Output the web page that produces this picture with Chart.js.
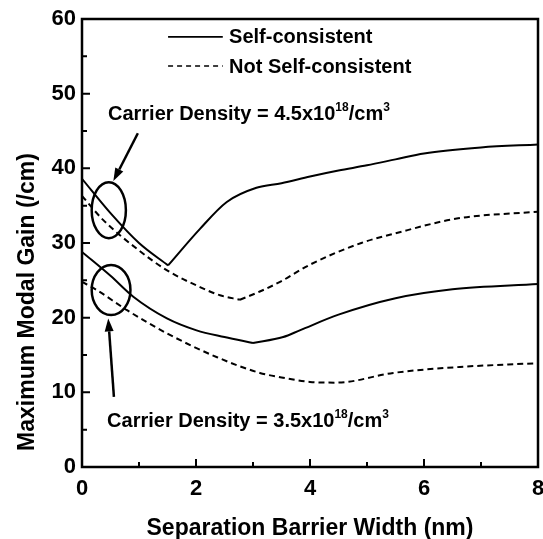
<!DOCTYPE html>
<html><head><meta charset="utf-8">
<script src="https://cdn.jsdelivr.net/npm/chart.js@4"></script>
<style>html,body{margin:0;padding:0;background:#fff}#wrap{width:543px;height:539px;position:relative}</style>
</head><body><div id="wrap"><canvas id="c" width="543" height="539"></canvas></div>
<script>
// ---- data ----
const scHighX  = [0, 0.5, 1.0, 1.51, 2.07, 2.54, 3.06, 3.5, 4.0, 4.5, 5.0, 5.5, 6.0, 7.0, 8.0];
const scHighY  = [38.6, 34.0, 30.0, 27.0, 31.9, 35.5, 37.4, 38.0, 38.9, 39.7, 40.4, 41.2, 42.0, 42.8, 43.2];
const nscHighX = [0, 0.37, 1.0, 1.5, 2.07, 2.42, 2.77, 3.12, 3.5, 4.0, 4.9, 5.5, 6.6, 8.0];
const nscHighY = [36.3, 33.1, 29.0, 26.3, 24.1, 23.0, 22.4, 23.5, 24.9, 27.1, 30.0, 31.3, 33.3, 34.2];
const scLowX   = [0, 0.5, 0.9, 1.49, 2.01, 2.5, 3.0, 3.53, 3.82, 4.5, 5.5, 6.5, 8.0];
const scLowY   = [28.8, 25.6, 22.8, 19.9, 18.3, 17.4, 16.6, 17.4, 18.3, 20.4, 22.6, 23.8, 24.5];
const nscLowX  = [0, 0.26, 0.79, 1.49, 2.37, 3.12, 3.5, 4.0, 4.47, 5.46, 6.63, 8.0];
const nscLowY  = [24.8, 23.7, 21.0, 17.9, 14.7, 12.6, 12.0, 11.4, 11.3, 12.6, 13.4, 13.9];
// x positions where the curves have a sharp corner
const scHighCorner = 1.51, nscHighCorner = 2.77, scLowCorner = 3.0;
const xTickValues = [0, 2, 4, 6, 8];
const yTickValues = [0, 10, 20, 30, 40, 50, 60];
const legendLabels = ['Self-consistent', 'Not Self-consistent'];
const xTitle = 'Separation Barrier Width (nm)';
const yTitle = 'Maximum Modal Gain (/cm)';

// annotations in data coordinates
const ellipses = [{cx:0.47, cy:34.4, rx:0.30, ry:3.75}, {cx:0.51, cy:23.7, rx:0.34, ry:3.35}];
const arrows = [{fx:0.98, fy:44.7, tx:0.55, ty:38.3}, {fx:0.56, fy:9.4, tx:0.46, ty:19.9}];
const notes = [
  {x:0.456, y:46.45, parts:['Carrier Density = 4.5x10','18','/cm','3']},
  {x:0.44, y:5.35, parts:['Carrier Density = 3.5x10','18','/cm','3']}
];

const FONT = "'Liberation Sans', Arial, Helvetica, sans-serif";
const pts = (xs, ys) => xs.map((x, i) => ({x, y: ys[i]}));
const before = (xs, ys, c) => pts(xs, ys).filter(p => p.x <= c);
const after = (xs, ys, c) => pts(xs, ys).filter(p => p.x >= c);

const decor = {
  id: 'decor',
  afterDatasetsDraw(chart) {
    const ctx = chart.ctx, xs = chart.scales.x, ys = chart.scales.y;
    const a = chart.chartArea;
    const X = v => xs.getPixelForValue(v), Y = v => ys.getPixelForValue(v);
    ctx.save();
    ctx.strokeStyle = '#000'; ctx.fillStyle = '#000';
    // frame
    ctx.lineWidth = 2.5;
    ctx.strokeRect(a.left, a.top, a.right - a.left, a.bottom - a.top);
    // ticks (inward, bottom & left)
    ctx.lineWidth = 2;
    ctx.beginPath();
    for (let v = 0; v <= 8; v += 1) {
      const len = (v % 2 === 0) ? 8 : 5;
      ctx.moveTo(X(v), a.bottom); ctx.lineTo(X(v), a.bottom - len);
    }
    for (let v = 0; v <= 60; v += 5) {
      const len = (v % 10 === 0) ? 8 : 5;
      ctx.moveTo(a.left, Y(v)); ctx.lineTo(a.left + len, Y(v));
    }
    ctx.stroke();
    // legend
    ctx.font = 'bold 20px ' + FONT;
    ctx.textBaseline = 'middle'; ctx.textAlign = 'left';
    const lx0 = X(1.51), lx1 = X(2.47), lt = X(2.58);
    const ly = [Y(57.6), Y(53.7)];
    ctx.lineWidth = 1.6;
    ctx.beginPath(); ctx.setLineDash([]); ctx.moveTo(lx0, ly[0]); ctx.lineTo(lx1, ly[0]); ctx.stroke();
    ctx.beginPath(); ctx.setLineDash([5, 4]); ctx.moveTo(lx0, ly[1]); ctx.lineTo(lx1, ly[1]); ctx.stroke();
    ctx.setLineDash([]);
    ctx.fillText(legendLabels[0], lt, ly[0] + 1);
    ctx.fillText(legendLabels[1], lt, ly[1] + 1);
    // ellipses
    ctx.lineWidth = 2.5;
    ellipses.forEach(e => {
      const cx = X(e.cx), cy = Y(e.cy);
      const rx = Math.abs(X(e.cx + e.rx) - cx), ry = Math.abs(Y(e.cy + e.ry) - cy);
      ctx.beginPath(); ctx.ellipse(cx, cy, rx, ry, 0, 0, Math.PI * 2); ctx.stroke();
    });
    // arrows
    arrows.forEach(ar => {
      const fx = X(ar.fx), fy = Y(ar.fy), tx = X(ar.tx), ty = Y(ar.ty);
      const ang = Math.atan2(ty - fy, tx - fx);
      const hl = 13, hw = 4.5;
      const bx = tx - hl * Math.cos(ang), by = ty - hl * Math.sin(ang);
      ctx.lineWidth = 2.5;
      ctx.beginPath(); ctx.moveTo(fx, fy); ctx.lineTo(bx, by); ctx.stroke();
      ctx.beginPath();
      ctx.moveTo(tx, ty);
      ctx.lineTo(bx + hw * Math.sin(ang), by - hw * Math.cos(ang));
      ctx.lineTo(bx - hw * Math.sin(ang), by + hw * Math.cos(ang));
      ctx.closePath(); ctx.fill();
    });
    // notes with superscripts
    ctx.textBaseline = 'alphabetic';
    notes.forEach(n => {
      let x = X(n.x); const y = Y(n.y);
      const big = 'bold 20px ' + FONT, small = 'bold 12px ' + FONT;
      n.parts.forEach((p, i) => {
        const sup = i % 2 === 1;
        ctx.font = sup ? small : big;
        ctx.fillText(p, x, sup ? y - 9 : y);
        x += ctx.measureText(p).width;
      });
    });
    // axis titles
    ctx.font = 'bold 23px ' + FONT;
    ctx.textAlign = 'center'; ctx.textBaseline = 'alphabetic';
    ctx.fillText(xTitle, (a.left + a.right) / 2, 535);
    ctx.save();
    ctx.translate(34, 302); ctx.rotate(-Math.PI / 2);
    ctx.fillText(yTitle, 0, 0);
    ctx.restore();
    ctx.restore();
  }
};

const lineDs = (label, data, dashed) => ({
  label, data, borderColor: '#000', borderWidth: 2, pointRadius: 0,
  borderDash: dashed ? [6, 4] : [], cubicInterpolationMode: 'monotone', fill: false
});

new Chart(document.getElementById('c'), {
  type: 'line',
  data: { datasets: [
    lineDs('Self-consistent 4.5 (a)', before(scHighX, scHighY, scHighCorner), false),
    lineDs('Self-consistent 4.5 (b)', after(scHighX, scHighY, scHighCorner), false),
    lineDs('Not Self-consistent 4.5 (a)', before(nscHighX, nscHighY, nscHighCorner), true),
    lineDs('Not Self-consistent 4.5 (b)', after(nscHighX, nscHighY, nscHighCorner), true),
    lineDs('Self-consistent 3.5 (a)', before(scLowX, scLowY, scLowCorner), false),
    lineDs('Self-consistent 3.5 (b)', after(scLowX, scLowY, scLowCorner), false),
    lineDs('Not Self-consistent 3.5', pts(nscLowX, nscLowY), true)
  ]},
  options: {
    responsive: false, devicePixelRatio: 1, animation: false,
    layout: { padding: { top: 19, right: 5, left: 0, bottom: 0 } },
    plugins: { legend: { display: false }, tooltip: { enabled: false } },
    scales: {
      x: {
        type: 'linear', min: 0, max: 8,
        afterBuildTicks: s => { s.ticks = xTickValues.map(v => ({value: v})); },
        afterFit: s => { s.height = 72; s.paddingLeft = 0; s.paddingRight = 0; },
        grid: { display: false, drawTicks: false }, border: { display: false },
        ticks: { color: '#000', font: { family: FONT, size: 22, weight: 'bold' }, padding: 9, maxRotation: 0 }
      },
      y: {
        type: 'linear', min: 0, max: 60,
        afterBuildTicks: s => { s.ticks = yTickValues.map(v => ({value: v})); },
        afterFit: s => { s.width = 82; s.paddingTop = 0; s.paddingBottom = 0; },
        grid: { display: false, drawTicks: false }, border: { display: false },
        ticks: { color: '#000', font: { family: FONT, size: 22, weight: 'bold' }, padding: 6 }
      }
    }
  },
  plugins: [decor]
});
</script></body></html>
